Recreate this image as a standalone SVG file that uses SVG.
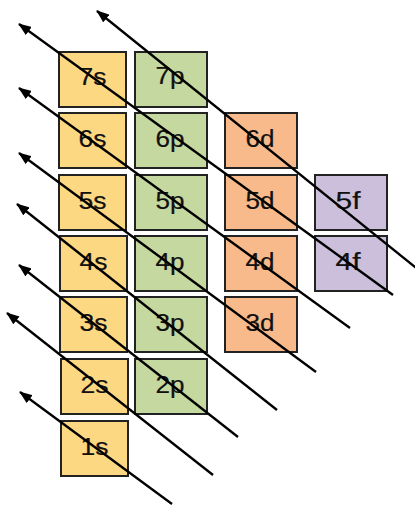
<svg xmlns="http://www.w3.org/2000/svg" width="415" height="505" viewBox="0 0 415 505">
<defs>
<style>
.box{stroke:#222;stroke-width:2}
.s{fill:#FDD882}.p{fill:#C5D89F}.d{fill:#F8BA8B}.f{fill:#CBBFDB}
text{font-family:"Liberation Sans",Arial,sans-serif;font-size:23px;fill:#111;stroke:#111;stroke-width:0.2;text-anchor:middle}
.ln{stroke:#000;stroke-width:2.3;fill:none;marker-end:url(#ah)}
</style>
<marker id="ah" viewBox="0 0 13 10" refX="12" refY="5" markerWidth="13" markerHeight="10" markerUnits="userSpaceOnUse" orient="auto">
<path d="M0,0 L13,5 L0,10 Z" fill="#000"/>
</marker>
</defs>
<rect width="415" height="505" fill="#fff"/>
<g id="n7s"><rect class="box s" x="59" y="52" width="67" height="55"/><text x="92.5" y="85" textLength="28" lengthAdjust="spacingAndGlyphs">7s</text></g>
<g id="n7p"><rect class="box p" x="135" y="52" width="72" height="55"/><text x="170" y="84" textLength="29" lengthAdjust="spacingAndGlyphs">7p</text></g>
<g id="n6s"><rect class="box s" x="59" y="113" width="67" height="55"/><text x="92.5" y="147" textLength="28" lengthAdjust="spacingAndGlyphs">6s</text></g>
<g id="n6p"><rect class="box p" x="135" y="113" width="72" height="55"/><text x="170" y="147" textLength="29" lengthAdjust="spacingAndGlyphs">6p</text></g>
<g id="n6d"><rect class="box d" x="225" y="113" width="72" height="55"/><text x="260" y="147" textLength="29" lengthAdjust="spacingAndGlyphs">6d</text></g>
<g id="n5s"><rect class="box s" x="59" y="175" width="67" height="55"/><text x="92.5" y="209" textLength="28" lengthAdjust="spacingAndGlyphs">5s</text></g>
<g id="n5p"><rect class="box p" x="135" y="175" width="72" height="55"/><text x="170" y="209" textLength="29" lengthAdjust="spacingAndGlyphs">5p</text></g>
<g id="n5d"><rect class="box d" x="225" y="175" width="72" height="55"/><text x="260" y="209" textLength="29" lengthAdjust="spacingAndGlyphs">5d</text></g>
<g id="n5f"><rect class="box f" x="315" y="175" width="72" height="55"/><text x="348" y="209" textLength="25" lengthAdjust="spacingAndGlyphs">5f</text></g>
<g id="n4s"><rect class="box s" x="60" y="236" width="67" height="55"/><text x="93.5" y="270" textLength="28" lengthAdjust="spacingAndGlyphs">4s</text></g>
<g id="n4p"><rect class="box p" x="135" y="236" width="72" height="55"/><text x="170" y="270" textLength="29" lengthAdjust="spacingAndGlyphs">4p</text></g>
<g id="n4d"><rect class="box d" x="225" y="236" width="72" height="55"/><text x="260" y="270" textLength="29" lengthAdjust="spacingAndGlyphs">4d</text></g>
<g id="n4f"><rect class="box f" x="315" y="236" width="72" height="55"/><text x="348" y="270" textLength="25" lengthAdjust="spacingAndGlyphs">4f</text></g>
<g id="n3s"><rect class="box s" x="60" y="297" width="67" height="55"/><text x="93.5" y="331" textLength="28" lengthAdjust="spacingAndGlyphs">3s</text></g>
<g id="n3p"><rect class="box p" x="135" y="297" width="72" height="55"/><text x="170" y="331" textLength="29" lengthAdjust="spacingAndGlyphs">3p</text></g>
<g id="n3d"><rect class="box d" x="225" y="297" width="72" height="55"/><text x="260" y="331" textLength="29" lengthAdjust="spacingAndGlyphs">3d</text></g>
<g id="n2s"><rect class="box s" x="61" y="359" width="67" height="55"/><text x="94.5" y="393" textLength="28" lengthAdjust="spacingAndGlyphs">2s</text></g>
<g id="n2p"><rect class="box p" x="135" y="359" width="72" height="55"/><text x="170" y="393" textLength="29" lengthAdjust="spacingAndGlyphs">2p</text></g>
<g id="n1s"><rect class="box s" x="61" y="421" width="67" height="55"/><text x="94.5" y="455" textLength="28" lengthAdjust="spacingAndGlyphs">1s</text></g>
<g id="connectors">
<line class="ln" x1="172" y1="504" x2="20" y2="392"/>
<line class="ln" x1="213" y1="475" x2="7" y2="313"/>
<line class="ln" x1="238" y1="437" x2="19" y2="265"/>
<line class="ln" x1="277" y1="410" x2="17" y2="204"/>
<line class="ln" x1="316" y1="372" x2="19" y2="153"/>
<line class="ln" x1="350" y1="328" x2="19" y2="88"/>
<line class="ln" x1="393" y1="295" x2="19" y2="24"/>
<line class="ln" x1="420" y1="271" x2="97" y2="11"/>
</g>
</svg>
